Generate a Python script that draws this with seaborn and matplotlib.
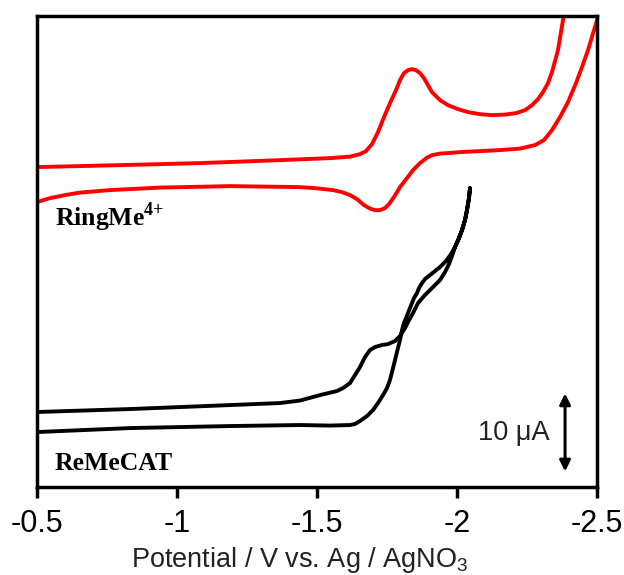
import matplotlib
matplotlib.use("Agg")
import matplotlib.pyplot as plt
import seaborn as sns
import pandas as pd

# Cyclic voltammograms: potential (V vs. Ag/AgNO3) and current (uA, stacked offsets)
ring_fwd_E = [-0.5000, -0.7964, -1.0821, -1.3679, -1.5464, -1.6179, -1.6536, -1.6750, -1.6964,
              -1.7179, -1.7393, -1.7607, -1.7821, -1.7964, -1.8107, -1.8250, -1.8393, -1.8536,
              -1.8679, -1.8821, -1.8964, -1.9107, -1.9393, -1.9679, -2.0036, -2.0393, -2.0821,
              -2.1250, -2.1714, -2.2107, -2.2429, -2.2679, -2.2893, -2.3071, -2.3250, -2.3393,
              -2.3500, -2.3607, -2.3714, -2.3821, -2.4000, -2.5200]
ring_fwd_I = [41.03, 41.28, 41.54, 41.92, 42.18, 42.37, 42.69, 43.08, 43.97,
              45.51, 47.44, 49.23, 50.90, 52.18, 53.08, 53.46, 53.59, 53.46,
              53.08, 52.44, 51.54, 50.64, 49.62, 48.97, 48.46, 48.08, 47.82,
              47.69, 47.76, 47.95, 48.33, 48.97, 49.74, 50.64, 51.79, 53.21,
              54.62, 56.03, 58.33, 60.64, 67.00, 95.00]
ring_rev_E = [-2.5200, -2.5071, -2.4893, -2.4679, -2.4464, -2.4250, -2.3964, -2.3679, -2.3393,
              -2.3107, -2.2786, -2.2250, -2.1536, -2.0821, -2.0107, -1.9643, -1.9393, -1.9107,
              -1.8929, -1.8679, -1.8429, -1.8214, -1.7964, -1.7750, -1.7571, -1.7429, -1.7250,
              -1.7071, -1.6893, -1.6679, -1.6429, -1.6179, -1.5893, -1.5571, -1.4929, -1.4393,
              -1.1893, -0.9393, -0.7607, -0.6536, -0.6000, -0.5464, -0.5000]
ring_rev_I = [64.00, 60.64, 58.59, 56.03, 53.85, 51.79, 49.36, 47.44, 45.77,
              44.49, 43.85, 43.40, 43.21, 43.08, 42.95, 42.82, 42.76, 42.56,
              42.24, 41.54, 40.64, 39.62, 38.46, 37.18, 36.28, 35.77, 35.51,
              35.51, 35.71, 36.15, 36.92, 37.44, 37.82, 38.08, 38.33, 38.46,
              38.59, 38.40, 38.08, 37.76, 37.44, 37.05, 36.54]

cat_fwd_E = [-0.5000, -0.8321, -1.1893, -1.3679, -1.4393, -1.5107, -1.5714, -1.5929, -1.6179,
             -1.6357, -1.6536, -1.6714, -1.6893, -1.7071, -1.7321, -1.7536, -1.7786, -1.7964,
             -1.8143, -1.8250, -1.8429, -1.8607, -1.8857, -1.9143, -1.9393, -1.9571, -1.9714,
             -1.9821, -1.9929, -2.0071, -2.0179, -2.0286, -2.0357, -2.0429, -2.0464]
cat_fwd_I = [9.62, 10.00, 10.51, 10.77, 11.09, 11.79, 12.31, 12.69, 13.33,
             14.36, 15.38, 16.67, 17.56, 17.95, 18.21, 18.33, 18.72, 19.36,
             20.38, 21.15, 22.31, 23.59, 24.62, 25.64, 26.54, 27.56, 28.59,
             29.62, 30.77, 31.92, 32.95, 34.23, 35.51, 37.05, 38.33]
cat_rev_E = [-2.0464, -2.0429, -2.0357, -2.0286, -2.0179, -2.0071, -1.9929, -1.9786, -1.9607,
             -1.9393, -1.9214, -1.9036, -1.8857, -1.8750, -1.8643, -1.8571, -1.8464, -1.8393,
             -1.8321, -1.8250, -1.8179, -1.8107, -1.8036, -1.7964, -1.7857, -1.7786, -1.7679,
             -1.7607, -1.7500, -1.7357, -1.7179, -1.7000, -1.6786, -1.6536, -1.6357, -1.6179,
             -1.5464, -1.4393, -1.1893, -0.8321, -0.5000]
cat_rev_I = [38.33, 37.05, 35.51, 34.23, 32.95, 31.92, 30.77, 29.87, 28.97,
             28.21, 27.69, 27.18, 26.67, 26.15, 25.51, 24.87, 24.23, 23.59,
             22.95, 22.31, 21.67, 21.03, 20.13, 18.85, 17.31, 16.28, 14.74,
             13.72, 12.69, 11.79, 10.77, 9.87, 9.10, 8.46, 8.08, 7.95,
             7.88, 7.95, 7.82, 7.56, 7.05]

compounds = ["RingMe", "ReMeCAT"]
line_colors = ["#ff0000", "#000000"]

x_ticks = [-0.5, -1.0, -1.5, -2.0, -2.5]
x_tick_labels = ["-0.5", "-1", "-1.5", "-2", "-2.5"]

scale_bar_E = -2.386
scale_bar_I = [2.0, 12.0]   # 10 uA

frames = [
    pd.DataFrame({"E": ring_fwd_E + ring_rev_E, "I": ring_fwd_I + ring_rev_I,
                  "compound": compounds[0]}),
    pd.DataFrame({"E": cat_fwd_E + cat_rev_E, "I": cat_fwd_I + cat_rev_I,
                  "compound": compounds[1]}),
]
df = pd.concat(frames, ignore_index=True)

sns.set_theme(style="white")
plt.rcParams["font.family"] = ["Liberation Sans", "DejaVu Sans"]
plt.rcParams["mathtext.fontset"] = "custom"
plt.rcParams["mathtext.rm"] = "Liberation Sans"
plt.rcParams["mathtext.it"] = "Liberation Sans:italic"
plt.rcParams["mathtext.bf"] = "Liberation Serif:bold"
plt.rcParams["axes.unicode_minus"] = False

fig = plt.figure(figsize=(6.24, 5.75), dpi=100)
ax = fig.add_axes([0.0593, 0.1530, 0.8974, 0.8191])

sns.lineplot(data=df, x="E", y="I", hue="compound", hue_order=compounds,
             palette=line_colors, sort=False, estimator=None, legend=False,
             linewidth=2.8, ax=ax)
for ln in ax.get_lines():
    ln.set_solid_joinstyle("round")
    ln.set_solid_capstyle("round")

ax.set_xlim(-0.5, -2.5)
ax.set_ylim(0, 60.4)
ax.set_xticks(x_ticks)
ax.set_xticklabels(x_tick_labels, fontsize=22)
ax.set_yticks([])
ax.tick_params(axis="x", direction="out", length=8, width=2.5, pad=8,
               bottom=True, colors="black")
for sp in ax.spines.values():
    sp.set_visible(True)
    sp.set_color("black")
    sp.set_linewidth(2.5)

ax.set_xlabel("Potential / V vs. Ag / AgNO$_3$", fontsize=19.5, color="#222222",
              labelpad=4, x=0.47)
ax.set_ylabel("")

ax.text(-0.564, 33.5, r"RingMe$^{\mathbf{4{+}}}$", fontfamily="Liberation Serif",
        fontweight="bold", fontsize=18.5, color="black", ha="left", va="baseline")
ax.text(-0.564, 2.2, "ReMeCAT", fontfamily="Liberation Serif",
        fontweight="bold", fontsize=18.5, color="black", ha="left", va="baseline")

ax.annotate("", xy=(scale_bar_E, scale_bar_I[0]), xytext=(scale_bar_E, scale_bar_I[1]),
            arrowprops=dict(arrowstyle="<|-|>", color="black", lw=2.2,
                            mutation_scale=16, shrinkA=0, shrinkB=0))
ax.text(-2.332, 6.9, "10 \u03bcA", fontsize=19.5, color="#222222",
        ha="right", va="center")

fig.savefig("out.png", dpi=100)
